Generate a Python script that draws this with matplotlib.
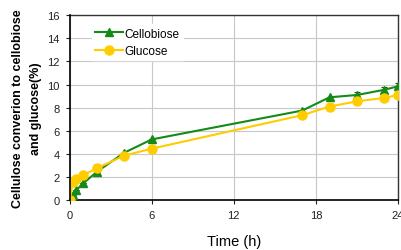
import matplotlib
matplotlib.use('Agg')
import matplotlib.pyplot as plt

plt.rcParams['font.family'] = ['Liberation Sans', 'DejaVu Sans']

time_h = [0, 0.25, 0.5, 1, 2, 4, 6, 17, 19, 21, 23, 24]
cellobiose = [0.0, 0.4, 0.87, 1.45, 2.45, 4.1, 5.25, 7.75, 8.9, 9.1, 9.55, 9.85]
cellobiose_err = [0, 0, 0, 0, 0, 0, 0, 0, 0, 0.25, 0.2, 0.3]
glucose = [0.0, 1.55, 1.8, 2.15, 2.75, 3.85, 4.45, 7.35, 8.1, 8.55, 8.85, 9.1]

GREEN = '#168a16'
YELLOW = '#ffcc00'

fig = plt.figure(figsize=(4.02, 2.51), dpi=100)
ax = fig.add_axes([0.173, 0.199, 0.817, 0.736])

ax.errorbar(time_h, cellobiose, yerr=cellobiose_err, fmt='none', ecolor='#333333',
            elinewidth=0.8, capsize=2, capthick=0.8, zorder=2.5)
ax.plot(time_h, cellobiose, color=GREEN, lw=1.5, marker='^', markersize=6,
        label='Cellobiose', zorder=3)
ax.plot(time_h, glucose, color=YELLOW, lw=1.5, marker='o', markersize=6.5,
        label='Glucose', zorder=4)

ax.set_xlim(0, 24)
ax.set_ylim(0, 16)
ax.set_xticks([0, 6, 12, 18, 24])
ax.set_yticks(range(0, 17, 2))
ax.grid(True, color='#c8c8c8', lw=0.8)
ax.set_axisbelow(True)
for side in ['left', 'bottom']:
    ax.spines[side].set_color('black')
    ax.spines[side].set_linewidth(1.2)
for side in ['top', 'right']:
    ax.spines[side].set_color('#333333')
    ax.spines[side].set_linewidth(1.0)
ax.tick_params(labelsize=8, length=3, width=0.8, colors='#222222', pad=4)
ax.spines['left'].set_zorder(5)

ax.set_xlabel('Time (h)', fontsize=10.5, labelpad=10)
ax.set_ylabel('Cellulose converion to cellobiose\nand glucose(%)', fontsize=9,
              fontweight='bold', labelpad=4, linespacing=1.65)

leg = ax.legend(loc='upper left', bbox_to_anchor=(0.05, 0.985),
                fontsize=8.5, frameon=True, fancybox=False, edgecolor='white',
                framealpha=1, handlelength=2.3, borderpad=0.3, labelspacing=0.45,
                handletextpad=0.15)

fig.savefig('out.png', dpi=100)
